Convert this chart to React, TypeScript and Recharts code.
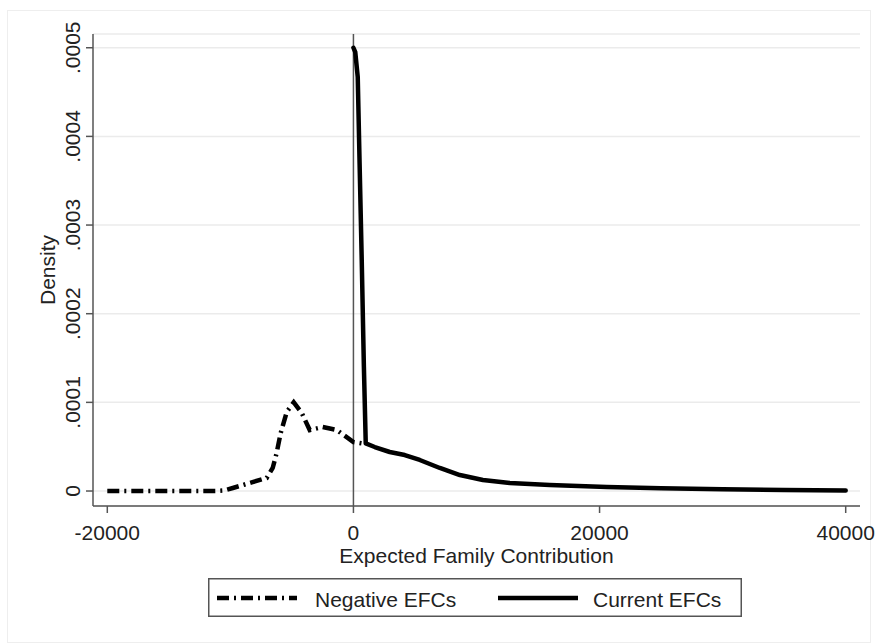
import React from "react";
import {LineChart,Line,XAxis,YAxis,CartesianGrid,ReferenceLine,Legend,Label} from "recharts";

// Negative EFCs kernel density (dash-dot)
const negX = [-20000, -18000, -16000, -14000, -12000, -11000, -10500, -9800, -8200, -7050, -6560, -6240, -5910, -5420, -4850, -4200, -3550, -2500, -1360, 0, 1000];
const negY = [0, 0, 0, 0, 0, 0.0000002, 0.0000006, 0.0000034, 0.00001, 0.0000147, 0.000026, 0.0000429, 0.0000655, 0.0000892, 0.0001, 0.000088, 0.0000688, 0.0000722, 0.0000688, 0.0000553, 0.000053];

// Current EFCs kernel density (solid)
const curX = [0, 150, 350, 500, 675, 850, 1000, 1730, 2950, 4170, 5390, 7020, 8650, 10520, 12710, 15960, 20590, 25000, 30000, 35000, 40000];
const curY = [0.0005, 0.000495, 0.000467, 0.00037, 0.00026, 0.00014, 0.0000538, 0.0000496, 0.000044, 0.0000406, 0.000035, 0.000026, 0.000018, 0.0000124, 0.000009, 0.0000068, 0.0000045, 0.000003, 0.000002, 0.0000012, 0.0000005];

const xTicks = [-20000, 0, 20000, 40000];
const yTicks = [0, 0.0001, 0.0002, 0.0003, 0.0004, 0.0005];

const negData = negX.map((x, i) => ({ x, y: negY[i] }));
const curData = curX.map((x, i) => ({ x, y: curY[i] }));

const FONT = '"Liberation Sans", Arial, sans-serif';
const DASH = "12 5 2 5";

function fmtY(v: number): string {
  if (v === 0) return "0";
  return v.toFixed(4).slice(1);
}

function XTick({ x, y, payload }: any) {
  return (
    <text x={x} y={y + 25} textAnchor="middle" fontSize={21} fill="#222" fontFamily={FONT}>
      {payload.value}
    </text>
  );
}

function YTick({ x, y, payload }: any) {
  const bx = x - 4;
  return (
    <text x={bx} y={y} textAnchor="middle" fontSize={21} fill="#222" fontFamily={FONT}
      transform={`rotate(-90, ${bx}, ${y})`}>
      {fmtY(payload.value)}
    </text>
  );
}

function LegendBox() {
  return (
    <svg width={534} height={39} style={{ display: "block" }}>
      <rect x={0.75} y={0.75} width={532.5} height={37.5} fill="#fff" stroke="#555" strokeWidth={1.5} />
      <line x1={9} x2={89} y1={20} y2={20} stroke="#000" strokeWidth={4.5} strokeDasharray={DASH} />
      <text x={107} y={28.7} fontSize={21} fill="#222" fontFamily={FONT}>Negative EFCs</text>
      <line x1={290} x2={370} y1={20} y2={20} stroke="#000" strokeWidth={4.5} />
      <text x={385} y={28.7} fontSize={21} fill="#222" fontFamily={FONT}>Current EFCs</text>
    </svg>
  );
}

export default function App() {
  return (
    <div style={{ position: "absolute", left: 0, top: 0, width: 878, height: 644, background: "#fff" }}>
      <div style={{ position: "absolute", left: 7, top: 10, width: 864, height: 633, border: "1px solid #eeeeee", boxSizing: "border-box" }} />
      <LineChart width={878} height={644} margin={{ top: 34, right: 18, left: 0, bottom: 0 }}>
        <CartesianGrid vertical={false} stroke="#ebebeb" strokeWidth={1.5} />
        <XAxis
          type="number"
          dataKey="x"
          domain={[-21162, 41162]}
          ticks={xTicks}
          allowDataOverflow
          height={99}
          tickSize={7}
          stroke="#555"
          strokeWidth={1.5}
          tick={<XTick />}
        >
          <Label
            content={({ viewBox }: any) => (
              <text x={viewBox.x + viewBox.width / 2} y={viewBox.y + 56.7} textAnchor="middle"
                fontSize={21} fill="#222" fontFamily={FONT}>
                Expected Family Contribution
              </text>
            )}
          />
        </XAxis>
        <YAxis
          type="number"
          domain={[-0.0000169, 0.0005155]}
          ticks={yTicks}
          allowDataOverflow
          width={93}
          tickSize={7}
          stroke="#555"
          strokeWidth={1.5}
          tick={<YTick />}
        >
          <Label
            content={({ viewBox }: any) => {
              const cx = viewBox.x + 55;
              const cy = viewBox.y + viewBox.height / 2;
              return (
                <text x={cx} y={cy} textAnchor="middle" fontSize={21} fill="#222" fontFamily={FONT}
                  transform={`rotate(-90, ${cx}, ${cy})`}>
                  Density
                </text>
              );
            }}
          />
        </YAxis>
        <ReferenceLine x={0} stroke="#555" strokeWidth={1.5} />
        <Line
          data={negData}
          dataKey="y"
          type="linear"
          stroke="#000"
          strokeWidth={4.5}
          strokeDasharray={DASH}
          dot={false}
          activeDot={false}
          isAnimationActive={false}
        />
        <Line
          data={curData}
          dataKey="y"
          type="linear"
          stroke="#000"
          strokeWidth={4.5}
          strokeLinejoin="round"
          strokeLinecap="round"
          dot={false}
          activeDot={false}
          isAnimationActive={false}
        />
        <Legend
          content={<LegendBox />}
          wrapperStyle={{ position: "absolute", left: 208, top: 578, width: 534, height: 39 }}
        />
      </LineChart>
    </div>
  );
}
